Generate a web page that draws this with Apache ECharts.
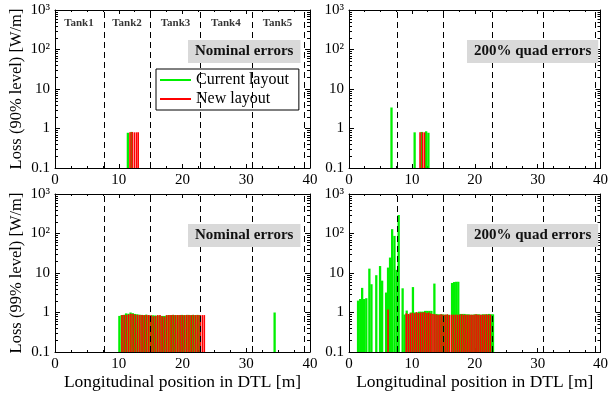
<!DOCTYPE html>
<html>
<head>
<meta charset="utf-8">
<script src="https://cdn.jsdelivr.net/npm/echarts@6/dist/echarts.min.js"></script>
<style>
  html, body { margin: 0; padding: 0; background: #fff; }
  #chart { width: 611px; height: 394px; }
</style>
</head>
<body>
<div id="chart"></div>
<script>
// 罐体分界（m）与标签
const tankEdges = [7.75, 14.95, 22.8, 30.9, 39.1];
const tankNames = ["Tank1", "Tank2", "Tank3", "Tank4", "Tank5"];
const tankLabelX = [3.75, 11.3, 18.9, 26.8, 34.9];
const yTickLabels = ["0.1", "1", "10", "10²", "10³"];

// 左上：90% level, nominal errors
const tlCurrentX = [11.43, 12.0];
const tlCurrentY = [0.78, 0.82];
const tlNewX = [11.77, 12.1, 12.45, 12.78, 13.05];
const tlNewY = [0.8, 0.82, 0.8, 0.8, 0.8];

// 右上：90% level, 200% quad errors
const trCurrentX = [6.76, 10.44, 11.55, 12.27, 12.63];
const trCurrentY = [3.4, 0.8, 0.82, 0.85, 0.78];
const trNewX = [11.3, 11.69, 12.0];
const trNewY = [0.8, 0.8, 0.8];

// 左下：99% level, nominal errors
const blCurrentX = [10.10, 10.45, 10.80, 11.15, 11.50, 11.85, 12.20, 12.55, 12.90, 13.25,
  13.60, 13.95, 14.30, 14.65, 15.00, 15.35, 15.70, 16.05, 16.40, 16.75, 17.10, 17.45,
  17.80, 18.15, 18.50, 18.85, 19.20, 19.55, 19.90, 20.25, 20.60, 20.95, 21.30, 21.65,
  22.00, 22.35, 22.70, 34.45];
const blCurrentY = [0.82, 0.86, 0.87, 0.95, 0.93, 1.0, 0.96, 0.92, 0.9, 0.88,
  0.87, 0.86, 0.88, 0.85, 0.84, 0.85, 0.84, 0.83, 0.83, 0.82, 0.82, 0.83,
  0.86, 0.86, 0.87, 0.86, 0.86, 0.86, 0.87, 0.86, 0.86, 0.87, 0.86, 0.87,
  0.86, 0.87, 0.86, 1.0];
const blNewX = [10.52, 10.87, 11.22, 11.57, 11.92, 12.27, 12.62, 12.97, 13.32, 13.67,
  14.02, 14.37, 14.72, 15.07, 15.42, 15.77, 16.12, 16.47, 16.82, 17.17, 17.52, 17.87,
  18.22, 18.57, 18.92, 19.27, 19.62, 19.97, 20.32, 20.67, 21.02, 21.37, 21.72, 22.07,
  22.42, 22.77, 23.12, 23.42];
const blNewY = [0.86, 0.87, 0.87, 0.9, 0.93, 0.92, 0.88, 0.87, 0.86, 0.86,
  0.86, 0.87, 0.86, 0.85, 0.8, 0.82, 0.86, 0.86, 0.8, 0.78, 0.86, 0.86,
  0.86, 0.87, 0.86, 0.86, 0.86, 0.86, 0.86, 0.87, 0.86, 0.86, 0.87, 0.86,
  0.86, 0.87, 0.86, 0.86];

// 右下：99% level, 200% quad errors
const brCurrentX = [1.44, 1.78, 2.09, 2.41, 2.75, 3.24, 3.57, 4.34, 4.94, 5.27,
  5.90, 6.21, 6.53, 6.86, 7.23, 7.57, 7.90, 8.53, 8.85, 9.18, 9.50, 9.83, 10.17,
  10.49, 10.81, 11.14, 11.47, 11.79, 12.12, 12.44, 12.77, 13.10, 13.58, 13.91, 14.23,
  14.56, 14.88, 15.21, 15.54, 15.86, 16.39, 16.72, 17.05, 17.38, 17.70, 18.03, 18.36,
  18.68, 19.01, 19.34, 19.66, 19.99, 20.32, 20.64, 20.97, 21.30, 21.62, 21.95, 22.28,
  22.60, 22.90];
const brCurrentY = [2.0, 2.2, 4.2, 2.2, 2.3, 12.9, 5.2, 8.8, 15, 6.4,
  3.2, 13.7, 24.6, 129, 87, 12, 294, 4.1, 0.89, 1.12, 0.89, 1.0, 4.4,
  1.0, 1.0, 1.05, 1.05, 1.05, 1.1, 1.1, 1.1, 1.1, 5.4, 0.92, 0.9,
  0.9, 0.9, 0.88, 0.88, 0.88, 5.6, 5.9, 6.0, 6.0, 0.92, 0.92, 0.92,
  0.9, 0.9, 0.88, 0.88, 0.9, 0.9, 0.9, 0.88, 0.9, 0.9, 0.9, 0.92,
  0.9, 0.9];
const brNewX = [6.21, 9.10, 9.43, 9.75, 10.08, 10.41, 10.73, 11.06, 11.39, 11.71,
  12.04, 12.37, 12.69, 13.02, 13.35, 13.67, 14.00, 14.33, 14.65, 14.98, 15.31, 15.63,
  15.96, 16.29, 16.61, 16.94, 17.27, 17.59, 17.92, 18.25, 18.57, 18.90, 19.23, 19.55,
  19.88, 20.21, 20.53, 20.86, 21.19, 21.51, 21.84, 22.17, 22.49];
const brNewY = [1.19, 0.95, 0.92, 0.95, 0.98, 0.95, 1.02, 0.97, 1.0, 1.0,
  1.02, 0.97, 1.0, 0.95, 0.92, 0.9, 0.88, 0.88, 0.9, 0.88, 0.88, 0.9,
  0.86, 0.88, 0.88, 0.88, 0.88, 0.88, 0.9, 0.88, 0.88, 0.88, 0.88, 0.88,
  0.88, 0.9, 0.88, 0.88, 0.88, 0.88, 0.9, 0.88, 0.88];

const FONT = "Liberation Serif";
const GREEN = "#00f000";
const RED = "#ff0000";

const panels = [
  { cur: [tlCurrentX, tlCurrentY], nw: [tlNewX, tlNewY], box: "Nominal errors", yName: "Loss (90% level) [W/m]", xName: "" },
  { cur: [trCurrentX, trCurrentY], nw: [trNewX, trNewY], box: "200% quad errors", yName: "", xName: "" },
  { cur: [blCurrentX, blCurrentY], nw: [blNewX, blNewY], box: "Nominal errors", yName: "Loss (99% level) [W/m]", xName: "Longitudinal position in DTL [m]" },
  { cur: [brCurrentX, brCurrentY], nw: [brNewX, brNewY], box: "200% quad errors", yName: "", xName: "Longitudinal position in DTL [m]" },
];
const grids = [
  { left: 55, top: 10, width: 255, height: 158 },
  { left: 349, top: 10, width: 255, height: 158 },
  { left: 55, top: 194, width: 255, height: 158 },
  { left: 349, top: 194, width: 255, height: 158 },
];

const zip = (xs, ys) => xs.map((x, i) => [x, ys[i]]);

// 对数轴的次刻度（2..9 × 10^k），两侧向内
const minorLogTicks = [];
for (let e = -1; e < 3; e++) {
  for (let m = 2; m <= 9; m++) minorLogTicks.push([0, m * Math.pow(10, e)]);
}

function barRenderer(widthPx) {
  return function (params, api) {
    const top = api.coord([api.value(0), api.value(1)]);
    const base = api.coord([api.value(0), 0.1]);
    return {
      type: "rect",
      shape: { x: top[0] - widthPx / 2, y: top[1], width: widthPx, height: base[1] - top[1] },
      style: { fill: api.visual("color") },
    };
  };
}

function minorTickRenderer(params, api) {
  const l = api.coord([0, api.value(1)]);
  const r = api.coord([40, api.value(1)]);
  const st = { stroke: "#000", lineWidth: 1 };
  return {
    type: "group",
    children: [
      { type: "line", shape: { x1: l[0], y1: Math.round(l[1]) + 0.5, x2: l[0] + 3, y2: Math.round(l[1]) + 0.5 }, style: st },
      { type: "line", shape: { x1: r[0] - 3, y1: Math.round(r[1]) + 0.5, x2: r[0], y2: Math.round(r[1]) + 0.5 }, style: st },
    ],
  };
}

const xAxis = [];
const yAxis = [];
const series = [];
const title = [];

panels.forEach((p, i) => {
  const g = grids[i];
  const axisLine = { show: true, onZero: false, lineStyle: { color: "#000", width: 1 } };
  xAxis.push({
    type: "value", gridIndex: i, min: 0, max: 40, interval: 10, position: "bottom",
    axisLine, splitLine: { show: false },
    axisTick: { show: true, inside: true, length: 4, lineStyle: { color: "#000" } },
    minorTick: { show: true, splitNumber: 4, length: 2, lineStyle: { color: "#000" } },
    axisLabel: { color: "#000", fontFamily: FONT, fontSize: 15, margin: 5 },
    name: p.xName, nameLocation: "middle", nameGap: 21,
    nameTextStyle: { color: "#000", fontFamily: FONT, fontSize: 17.5 },
  });
  xAxis.push({
    type: "value", gridIndex: i, min: 0, max: 40, interval: 10, position: "top",
    axisLine, splitLine: { show: false },
    axisTick: { show: true, inside: true, length: 4, lineStyle: { color: "#000" } },
    minorTick: { show: true, splitNumber: 4, length: 2, lineStyle: { color: "#000" } },
    axisLabel: { show: false },
  });
  yAxis.push({
    type: "log", logBase: 10, gridIndex: i, min: 0.1, max: 1000, position: "left",
    axisLine, splitLine: { show: false }, minorTick: { show: false },
    axisTick: { show: true, inside: true, length: 5, lineStyle: { color: "#000" } },
    axisLabel: {
      color: "#000", fontFamily: FONT, fontSize: 15, margin: 5,
      formatter: (v) => yTickLabels[Math.round(Math.log10(v)) + 1],
    },
    name: p.yName, nameLocation: "middle", nameGap: 30, nameRotate: 90,
    nameTextStyle: { color: "#000", fontFamily: FONT, fontSize: 16.5 },
  });
  yAxis.push({
    type: "log", logBase: 10, gridIndex: i, min: 0.1, max: 1000, position: "right",
    axisLine, splitLine: { show: false }, minorTick: { show: false },
    axisTick: { show: true, inside: true, length: 5, lineStyle: { color: "#000" } },
    axisLabel: { show: false },
  });

  series.push({
    type: "custom", name: "Current layout", xAxisIndex: 2 * i, yAxisIndex: 2 * i,
    renderItem: barRenderer(2.3), itemStyle: { color: GREEN }, clip: true,
    data: zip(p.cur[0], p.cur[1]), z: 2,
  });
  series.push({
    type: "custom", name: "New layout", xAxisIndex: 2 * i, yAxisIndex: 2 * i,
    renderItem: barRenderer(1.6), itemStyle: { color: RED }, clip: true,
    data: zip(p.nw[0], p.nw[1]), z: 3,
  });
  series.push({
    type: "custom", xAxisIndex: 2 * i, yAxisIndex: 2 * i, silent: true,
    renderItem: minorTickRenderer, data: minorLogTicks, z: 5,
  });
  series.push({
    type: "line", xAxisIndex: 2 * i, yAxisIndex: 2 * i, data: [], silent: true, z: 6,
    markLine: {
      silent: true, symbol: ["none", "none"], label: { show: false }, animation: false,
      lineStyle: { color: "#000", width: 1, type: [6, 4] },
      data: tankEdges.map((v) => ({ xAxis: v })),
    },
  });

  title.push({
    text: p.box,
    left: i % 2 === 0 ? 188 : 467,
    top: g.top + 30,
    backgroundColor: "#d9d9d9",
    padding: [4, 7, 4, 7],
    textStyle: { fontFamily: FONT, fontWeight: "bold", fontSize: 15, color: "#111", lineHeight: 15 },
  });
});

// 罐体名称（仅左上）
series.push({
  type: "scatter", xAxisIndex: 0, yAxisIndex: 0, symbolSize: 0, silent: true, z: 7,
  data: tankNames.map((n, k) => ({ value: [tankLabelX[k], 460], name: n })),
  label: {
    show: true, position: "inside", formatter: (d) => d.name,
    fontFamily: FONT, fontWeight: "bold", fontSize: 11, color: "#000",
  },
});

const chart = echarts.init(document.getElementById("chart"), null, { renderer: "canvas" });
chart.setOption({
  animation: false,
  backgroundColor: "#fff",
  grid: grids.map((g) => ({ ...g, containLabel: false })),
  title,
  legend: {
    left: 156, top: 69, orient: "vertical",
    data: [
      { name: "Current layout", icon: "rect", itemStyle: { color: GREEN } },
      { name: "New layout", icon: "rect", itemStyle: { color: RED } },
    ],
    itemWidth: 31, itemHeight: 2, itemGap: 3,
    padding: [3, 10, 3, 4],
    backgroundColor: "#fff", borderColor: "#000", borderWidth: 1,
    textStyle: { fontFamily: FONT, fontSize: 16, color: "#000" },
    selectedMode: false,
  },
  xAxis,
  yAxis,
  series,
});
</script>
</body>
</html>
